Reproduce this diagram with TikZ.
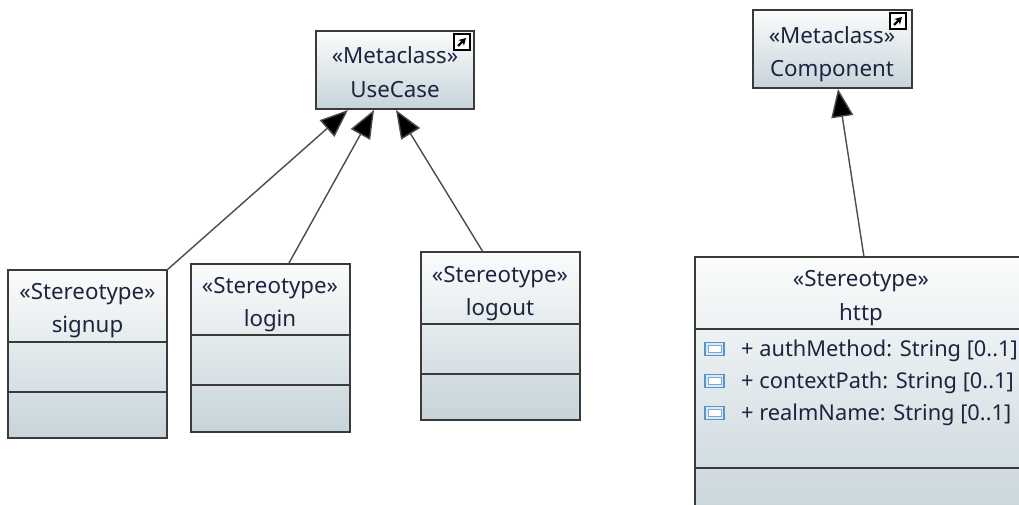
\documentclass[tikz,border=0pt]{standalone}
\usepackage{fontspec}
\setmainfont{Noto Sans}
\usetikzlibrary{arrows.meta}
\definecolor{boxedge}{HTML}{3A3A3A}
\definecolor{txt}{HTML}{1E2440}
\definecolor{gradtop}{HTML}{FBFCFC}
\definecolor{gradbot}{HTML}{C6D4DA}
\definecolor{iconblue}{HTML}{5B93C7}
\definecolor{iconfill}{HTML}{DCE9F4}
\tikzset{
  umlbox/.style={draw=boxedge,line width=1.7pt,top color=gradtop,bottom color=gradbot,
    minimum width=#1,inner sep=0pt,outer sep=0pt,anchor=north west},
  lbl/.style={text=txt,font=\fontsize{22.3}{24}\selectfont,inner sep=0pt,anchor=base},
  attr/.style={text=txt,font=\fontsize{21.8}{24}\selectfont,inner sep=0pt,anchor=base west},
  sep/.style={draw=boxedge,line width=1.7pt},
  gen/.style={draw=black!70,line width=1.4pt,-{Triangle[length=28pt,width=22pt,fill=black]}},
  linkicon/.style={draw=black,line width=1.5pt,fill=white,minimum size=16pt,inner sep=0pt,outer sep=0pt},
  linkarrow/.style={black,line width=2.2pt,-{Stealth[length=7pt,width=8pt]}},
  attricon/.style={draw=iconblue,line width=1.4pt,fill=iconfill,minimum width=19pt,minimum height=13pt,inner sep=0pt},
  attrinner/.style={draw=iconblue!80,line width=.8pt,fill=white,minimum width=13pt,minimum height=7pt,inner sep=0pt}
}
\begin{document}
\begin{tikzpicture}[x=1pt,y=-1pt]
\useasboundingbox (0,0) rectangle (1019,504);
\clip (0,0) rectangle (1019,504);
\fill[white] (0,0) rectangle (1019,504);

% Metaclass UseCase
\node[umlbox=158pt,minimum height=78pt] (usecase) at (316,31) {};
\node[lbl] (usecaseS) at (395,63) {«Metaclass»};
\node[lbl] (usecaseN) at (395,97) {UseCase};
\node[linkicon] (usecaseI) at (462,42) {};
\draw[linkarrow] (usecaseI.south west)++(4,-4) -- ++(8,-8);

% Metaclass Component
\node[umlbox=159pt,minimum height=78pt] (component) at (753,10) {};
\node[lbl] (componentS) at (832,43) {«Metaclass»};
\node[lbl] (componentN) at (832,76) {Component};
\node[linkicon] (componentI) at (898,21) {};
\draw[linkarrow] (componentI.south west)++(4,-4) -- ++(8,-8);

% signup
\node[umlbox=159pt,minimum height=168pt] (signup) at (8,270) {};
\node[lbl] (signupS) at (87.5,299) {«Stereotype»};
\node[lbl] (signupN) at (87.5,332) {signup};
\coordinate (signupA) at (8,342); \coordinate (signupB) at (167,342);
\coordinate (signupC) at (8,392); \coordinate (signupD) at (167,392);
\draw[sep] (signupA) -- (signupB) (signupC) -- (signupD);

% login
\node[umlbox=159pt,minimum height=168pt] (login) at (191,264) {};
\node[lbl] (loginS) at (270,293) {«Stereotype»};
\node[lbl] (loginN) at (270,326) {login};
\coordinate (loginA) at (191,335); \coordinate (loginB) at (350,335);
\coordinate (loginC) at (191,385); \coordinate (loginD) at (350,385);
\draw[sep] (loginA) -- (loginB) (loginC) -- (loginD);

% logout
\node[umlbox=159pt,minimum height=168pt] (logout) at (421,252) {};
\node[lbl] (logoutS) at (500,282) {«Stereotype»};
\node[lbl] (logoutN) at (500,315) {logout};
\coordinate (logoutA) at (421,324); \coordinate (logoutB) at (580,324);
\coordinate (logoutC) at (421,374); \coordinate (logoutD) at (580,374);
\draw[sep] (logoutA) -- (logoutB) (logoutC) -- (logoutD);

% http
\node[umlbox=340pt,minimum height=270pt] (http) at (695,257) {};
\node[lbl] (httpS) at (861,286) {«Stereotype»};
\node[lbl] (httpN) at (861,320) {http};
\coordinate (httpA) at (695,329); \coordinate (httpB) at (1035,329);
\coordinate (httpC) at (695,468); \coordinate (httpD) at (1035,468);
\draw[sep] (httpA) -- (httpB) (httpC) -- (httpD);

\foreach \n/\yy/\t in {a/349/+ authMethod: String [0..1],b/381/+ contextPath: String [0..1],c/413/+ realmName: String [0..1]}{
  \node[attricon] (icon\n) at (714.5,\yy) {};
  \node[attrinner] (inner\n) at (714.5,\yy) {};
  \node[attr] (text\n) at (741,\yy+7) {\t};
}

% connectors
\coordinate (t1) at (348,110);
\coordinate (t2) at (374,110);
\coordinate (t3) at (396,110);
\coordinate (t4) at (838,89);
\coordinate (s1) at (167,270);
\coordinate (s2) at (289,263);
\coordinate (s3) at (483,252);
\coordinate (s4) at (864,257);
\draw[gen] (s1) -- (t1);
\draw[gen] (s2) -- (t2);
\draw[gen] (s3) -- (t3);
\draw[gen] (s4) -- (t4);
\end{tikzpicture}
\end{document}
